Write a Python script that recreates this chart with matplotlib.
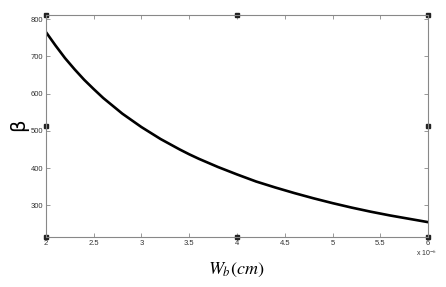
import matplotlib
matplotlib.use("Agg")
import matplotlib.pyplot as plt

# valores (Wb en unidades de 1e-6 cm)
wb = [2.0, 2.1, 2.2, 2.3, 2.4, 2.5, 2.6, 2.7, 2.8, 2.9, 3.0,
      3.1, 3.2, 3.3, 3.4, 3.5, 3.6, 3.7, 3.8, 4.0,
      4.2, 4.4, 4.6, 4.8, 5.0, 5.2, 5.4, 5.6, 5.8, 6.0]
beta = [765, 729, 695, 665, 637, 612, 588, 567, 546, 528, 510,
        494, 478, 464, 450, 437, 425, 414, 403, 383,
        364, 348, 333, 319, 306, 294, 283, 273, 264, 255]

xticks = [2, 2.5, 3, 3.5, 4, 4.5, 5, 5.5, 6]
xticklabels = ["2", "2.5", "3", "3.5", "4", "4.5", "5", "5.5", "6"]
yticks = [300, 400, 500, 600, 700, 800]

plt.rcParams["mathtext.fontset"] = "stix"
plt.rcParams["font.family"] = ["Liberation Sans", "DejaVu Sans"]

fig = plt.figure(figsize=(4.46, 2.87), dpi=100)
ax = fig.add_axes([0.103, 0.174, 0.857, 0.774])

ax.plot(wb, beta, color="black", linewidth=1.9, solid_joinstyle="round")

ax.set_xlim(2, 6)
ax.set_ylim(215, 811)
ax.set_xticks(xticks)
ax.set_xticklabels(xticklabels)
ax.set_yticks(yticks)

for s in ax.spines.values():
    s.set_color("#888888")
    s.set_linewidth(0.8)
ax.tick_params(direction="in", length=3, width=0.6, color="#888888",
               labelsize=5.5, labelcolor="#333333", top=True, right=True, pad=2)

# cuadraditos de seleccion de los ejes
hx = [0, 0.5, 1, 0, 1, 0, 0.5, 1]
hy = [1, 1, 1, 0.5, 0.5, 0, 0, 0]
ax.plot(hx, hy, "s", color="#222222", markersize=2.2, transform=ax.transAxes, clip_on=False)

fig.text(0.933, 0.108, r"x 10$^{-6}$", fontsize=5, color="#333333")
fig.text(0.53, 0.06, r"$W_b(cm)$", fontsize=13, ha="center", va="center")
fig.text(0.042, 0.565, "β", fontsize=14, rotation=90, ha="center", va="center",
         family="DejaVu Sans")

fig.savefig("out.png", dpi=100)
